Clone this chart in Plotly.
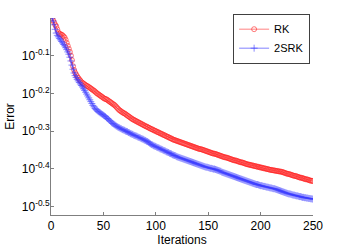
import math
import plotly.graph_objects as go

# Iterations 1..250
iterations = list(range(1, 251))

# log10(Error), RK
rk_log10_error = [
    0.000, -0.006, -0.012, -0.018, -0.022, -0.030, -0.038, -0.042, -0.043, -0.044,
    -0.046, -0.049, -0.052, -0.058, -0.066, -0.074, -0.082, -0.090, -0.100, -0.112,
    -0.128, -0.138, -0.145, -0.150, -0.155, -0.159, -0.163, -0.166, -0.170, -0.172,
    -0.174, -0.176, -0.178, -0.180, -0.181, -0.183, -0.185, -0.187, -0.189, -0.191,
    -0.193, -0.195, -0.198, -0.200, -0.202, -0.204, -0.206, -0.208, -0.210, -0.212,
    -0.214, -0.215, -0.216, -0.218, -0.220, -0.222, -0.224, -0.226, -0.228, -0.230,
    -0.232, -0.235, -0.238, -0.241, -0.244, -0.246, -0.248, -0.250, -0.252, -0.253,
    -0.255, -0.257, -0.259, -0.261, -0.263, -0.265, -0.267, -0.269, -0.270, -0.272,
    -0.273, -0.275, -0.276, -0.278, -0.279, -0.281, -0.282, -0.284, -0.285, -0.287,
    -0.288, -0.289, -0.291, -0.292, -0.294, -0.295, -0.296, -0.298, -0.299, -0.300,
    -0.302, -0.303, -0.304, -0.306, -0.307, -0.308, -0.310, -0.311, -0.312, -0.314,
    -0.315, -0.316, -0.318, -0.319, -0.320, -0.322, -0.323, -0.324, -0.325, -0.326,
    -0.327, -0.328, -0.329, -0.330, -0.331, -0.332, -0.333, -0.334, -0.335, -0.336,
    -0.337, -0.338, -0.339, -0.340, -0.341, -0.342, -0.343, -0.344, -0.345, -0.346,
    -0.347, -0.348, -0.348, -0.349, -0.350, -0.351, -0.352, -0.353, -0.354, -0.355,
    -0.356, -0.357, -0.358, -0.359, -0.360, -0.360, -0.361, -0.362, -0.363, -0.364,
    -0.365, -0.366, -0.367, -0.368, -0.369, -0.370, -0.370, -0.371, -0.372, -0.373,
    -0.374, -0.375, -0.376, -0.377, -0.378, -0.378, -0.379, -0.380, -0.381, -0.382,
    -0.383, -0.383, -0.384, -0.385, -0.386, -0.387, -0.388, -0.389, -0.389, -0.390,
    -0.391, -0.391, -0.392, -0.393, -0.393, -0.394, -0.395, -0.395, -0.396, -0.397,
    -0.397, -0.398, -0.399, -0.399, -0.400, -0.401, -0.401, -0.402, -0.403, -0.403,
    -0.404, -0.404, -0.405, -0.405, -0.406, -0.406, -0.407, -0.407, -0.408, -0.408,
    -0.409, -0.410, -0.411, -0.412, -0.413, -0.414, -0.414, -0.415, -0.416, -0.417,
    -0.418, -0.419, -0.419, -0.420, -0.421, -0.422, -0.423, -0.424, -0.424, -0.425,
    -0.426, -0.427, -0.428, -0.428, -0.429, -0.430, -0.431, -0.432, -0.432, -0.433,
]

# log10(Error), 2SRK
srk2_log10_error = [
    0.000, -0.008, -0.018, -0.030, -0.040, -0.046, -0.050, -0.054, -0.058, -0.062,
    -0.066, -0.070, -0.074, -0.079, -0.084, -0.090, -0.096, -0.104, -0.114, -0.125,
    -0.136, -0.146, -0.153, -0.158, -0.163, -0.167, -0.171, -0.175, -0.179, -0.183,
    -0.188, -0.192, -0.197, -0.202, -0.207, -0.212, -0.217, -0.222, -0.227, -0.232,
    -0.236, -0.240, -0.243, -0.245, -0.248, -0.250, -0.252, -0.254, -0.256, -0.258,
    -0.260, -0.262, -0.265, -0.267, -0.269, -0.272, -0.275, -0.278, -0.280, -0.282,
    -0.284, -0.286, -0.288, -0.290, -0.291, -0.293, -0.294, -0.296, -0.297, -0.298,
    -0.300, -0.301, -0.302, -0.304, -0.305, -0.307, -0.308, -0.309, -0.311, -0.312,
    -0.313, -0.314, -0.316, -0.317, -0.318, -0.320, -0.321, -0.322, -0.324, -0.325,
    -0.327, -0.328, -0.330, -0.332, -0.334, -0.336, -0.337, -0.339, -0.340, -0.341,
    -0.343, -0.344, -0.345, -0.347, -0.348, -0.349, -0.351, -0.352, -0.353, -0.355,
    -0.356, -0.357, -0.359, -0.360, -0.361, -0.363, -0.364, -0.365, -0.366, -0.368,
    -0.369, -0.370, -0.371, -0.372, -0.373, -0.374, -0.375, -0.376, -0.377, -0.378,
    -0.379, -0.380, -0.381, -0.382, -0.383, -0.384, -0.385, -0.386, -0.387, -0.388,
    -0.389, -0.390, -0.391, -0.392, -0.393, -0.394, -0.395, -0.396, -0.396, -0.397,
    -0.398, -0.399, -0.399, -0.400, -0.401, -0.401, -0.402, -0.403, -0.404, -0.405,
    -0.406, -0.407, -0.409, -0.410, -0.411, -0.412, -0.413, -0.414, -0.415, -0.416,
    -0.417, -0.418, -0.419, -0.420, -0.421, -0.422, -0.423, -0.424, -0.425, -0.426,
    -0.427, -0.428, -0.429, -0.430, -0.431, -0.432, -0.433, -0.434, -0.435, -0.436,
    -0.437, -0.438, -0.439, -0.440, -0.441, -0.442, -0.442, -0.443, -0.444, -0.445,
    -0.445, -0.446, -0.447, -0.447, -0.448, -0.449, -0.449, -0.450, -0.451, -0.451,
    -0.452, -0.453, -0.453, -0.454, -0.455, -0.456, -0.457, -0.458, -0.459, -0.460,
    -0.461, -0.462, -0.463, -0.464, -0.465, -0.466, -0.467, -0.467, -0.468, -0.469,
    -0.470, -0.470, -0.471, -0.472, -0.472, -0.473, -0.474, -0.474, -0.475, -0.476,
    -0.476, -0.477, -0.477, -0.478, -0.478, -0.479, -0.479, -0.480, -0.480, -0.481,
]

x_tick_values = [0, 50, 100, 150, 200, 250]
y_tick_exponents = [-0.5, -0.4, -0.3, -0.2, -0.1]
y_tick_labels = ["10<sup>-0.5</sup>", "10<sup>-0.4</sup>", "10<sup>-0.3</sup>",
                 "10<sup>-0.2</sup>", "10<sup>-0.1</sup>"]
series_names = ["RK", "2SRK"]

rk_error = [10 ** v for v in rk_log10_error]
srk2_error = [10 ** v for v in srk2_log10_error]

FONT = "Liberation Sans, Arial, Helvetica, sans-serif"
AXIS_COLOR = "#7f7f7f"

fig = go.Figure()
fig.add_trace(go.Scatter(
    x=iterations, y=rk_error, name=series_names[0], mode="lines+markers",
    line=dict(color="#ff0000", width=0.5),
    marker=dict(symbol="circle-open", size=5, color="#ff2020", line=dict(width=0.6)),
))
fig.add_trace(go.Scatter(
    x=iterations, y=srk2_error, name=series_names[1], mode="lines+markers",
    line=dict(color="#0000ff", width=0.5),
    marker=dict(symbol="cross-thin-open", size=5, color="#3a3aff", line=dict(width=0.6, color="#3a3aff")),
))

fig.update_layout(
    width=346, height=247,
    margin=dict(l=51, r=33, t=18, b=32),
    paper_bgcolor="white", plot_bgcolor="white",
    font=dict(family=FONT, size=12, color="black"),
    showlegend=True,
    legend=dict(
        x=0.989, y=0.895, xanchor="right", yanchor="middle",
        bordercolor="#404040", borderwidth=1, bgcolor="white",
        font=dict(family=FONT, size=11),
        tracegroupgap=0, itemwidth=30,
    ),
)
fig.update_xaxes(
    range=[0, 250], tickvals=x_tick_values, ticks="inside", ticklen=3,
    tickcolor=AXIS_COLOR, showline=True, linecolor=AXIS_COLOR, linewidth=1,
    showgrid=False, zeroline=False, mirror=False, automargin=False,
    title=dict(text="Iterations", standoff=2, font=dict(size=12)),
    tickfont=dict(size=12),
)
fig.update_yaxes(
    type="log", range=[math.log10(0.3), 0],
    tickvals=[10 ** e for e in y_tick_exponents], ticktext=y_tick_labels,
    ticks="inside", ticklen=3, tickcolor=AXIS_COLOR, ticklabelstandoff=-2,
    showline=True, linecolor=AXIS_COLOR, linewidth=1,
    showgrid=False, zeroline=False, mirror=False, automargin=False,
    title=dict(text="Error", standoff=4, font=dict(size=12)),
    tickfont=dict(size=12),
)

fig.write_html("out.html", config={"displayModeBar": False},
               post_script="document.body.style.margin='0px';")
